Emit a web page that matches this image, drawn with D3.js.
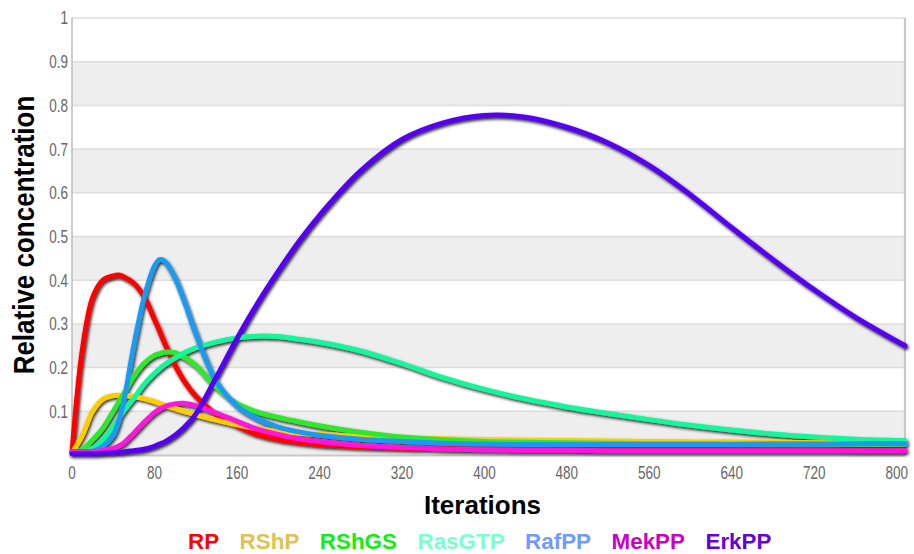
<!DOCTYPE html>
<html>
<head>
<meta charset="utf-8">
<script src="https://cdn.jsdelivr.net/npm/d3@7"></script>
<style>
  html, body { margin: 0; padding: 0; background: #fff; }
  svg { display: block; font-family: "Liberation Sans", Arial, sans-serif; }
</style>
</head>
<body>
<svg id="chart" width="914" height="554"></svg>
<script>
// ---------- data ----------
const iterations = [0, 10, 20, 30, 40, 45, 50, 60, 70, 80, 85, 90, 100, 110, 120, 140, 160, 180, 200, 220, 240, 280, 320, 360, 400, 440, 480, 520, 560, 600, 640, 680, 720, 760, 808];

const seriesNames = ["RP", "RShP", "RShGS", "RasGTP", "RafPP", "MekPP", "ErkPP"];

const RP     = [0.005, 0.24, 0.36, 0.40, 0.41, 0.412, 0.408, 0.393, 0.362, 0.31, 0.283, 0.255, 0.205, 0.165, 0.135, 0.093, 0.067, 0.047, 0.036, 0.029, 0.024, 0.019, 0.016, 0.015, 0.014, 0.013, 0.013, 0.012, 0.012, 0.012, 0.011, 0.011, 0.011, 0.01, 0.01];
const RShP   = [0.005, 0.045, 0.10, 0.128, 0.136, 0.137, 0.136, 0.133, 0.129, 0.122, 0.118, 0.114, 0.106, 0.099, 0.092, 0.08, 0.069, 0.06, 0.054, 0.05, 0.047, 0.043, 0.040, 0.037, 0.035, 0.034, 0.033, 0.032, 0.031, 0.030, 0.030, 0.029, 0.028, 0.028, 0.027];
const RShGS  = [0.005, 0.012, 0.035, 0.062, 0.10, 0.12, 0.14, 0.18, 0.21, 0.228, 0.232, 0.235, 0.234, 0.222, 0.205, 0.155, 0.118, 0.098, 0.086, 0.076, 0.067, 0.052, 0.041, 0.035, 0.031, 0.029, 0.028, 0.027, 0.026, 0.026, 0.025, 0.025, 0.025, 0.024, 0.024];
const RasGTP = [0.005, 0.006, 0.015, 0.035, 0.065, 0.082, 0.10, 0.13, 0.162, 0.187, 0.197, 0.207, 0.222, 0.235, 0.245, 0.259, 0.268, 0.272, 0.271, 0.265, 0.258, 0.238, 0.209, 0.177, 0.15, 0.128, 0.11, 0.095, 0.081, 0.068, 0.057, 0.048, 0.041, 0.036, 0.033];
const RafPP  = [0.005, 0.005, 0.008, 0.02, 0.045, 0.075, 0.12, 0.25, 0.36, 0.432, 0.447, 0.443, 0.405, 0.345, 0.278, 0.168, 0.113, 0.083, 0.064, 0.053, 0.045, 0.036, 0.031, 0.027, 0.025, 0.024, 0.024, 0.024, 0.024, 0.024, 0.024, 0.025, 0.025, 0.026, 0.026];
const MekPP  = [0.008, 0.008, 0.008, 0.01, 0.015, 0.02, 0.027, 0.05, 0.075, 0.097, 0.105, 0.111, 0.117, 0.118, 0.113, 0.096, 0.077, 0.059, 0.047, 0.037, 0.031, 0.022, 0.017, 0.014, 0.012, 0.011, 0.011, 0.01, 0.01, 0.01, 0.01, 0.01, 0.01, 0.01, 0.01];
const ErkPP  = [0.003, 0.003, 0.003, 0.004, 0.005, 0.006, 0.007, 0.01, 0.013, 0.02, 0.025, 0.03, 0.045, 0.066, 0.093, 0.178, 0.266, 0.347, 0.42, 0.488, 0.548, 0.65, 0.722, 0.76, 0.777, 0.773, 0.75, 0.714, 0.662, 0.595, 0.52, 0.447, 0.378, 0.315, 0.25];

const seriesValues = [RP, RShP, RShGS, RasGTP, RafPP, MekPP, ErkPP];
const lineColors   = ["#ff0000", "#ffcc00", "#2ee82e", "#14f59a", "#1a9af0", "#ff14dc", "#5500ee"];
const legendColors = ["#ff0000", "#dfc24f", "#11ee11", "#77ffcc", "#6f9bff", "#cc00cc", "#6600dd"];

const yTicks = [0.1, 0.2, 0.3, 0.4, 0.5, 0.6, 0.7, 0.8, 0.9, 1];
const yTickLabels = ["0.1", "0.2", "0.3", "0.4", "0.5", "0.6", "0.7", "0.8", "0.9", "1"];
const xTicks = [0, 80, 160, 240, 320, 400, 480, 560, 640, 720, 800];

// ---------- layout ----------
const svg = d3.select("#chart");
const plotL = 72, plotR = 905, plotT = 18, plotB = 455;

const x = d3.scaleLinear().domain([0, 808]).range([plotL, plotR]);
const y = d3.scaleLinear().domain([0, 1]).range([plotB, plotT]);

// drop shadow filter
const defs = svg.append("defs");
const f = defs.append("filter").attr("id", "shadow")
  .attr("x", "-5%").attr("y", "-5%").attr("width", "110%").attr("height", "115%");
f.append("feDropShadow").attr("dx", 1.2).attr("dy", 1.8).attr("stdDeviation", 1.4)
  .attr("flood-color", "#000").attr("flood-opacity", 0.85);

// bands
const bandStarts = d3.range(0, 10, 2).map(i => i / 10);
svg.append("g").selectAll("rect").data(bandStarts).join("rect")
  .attr("x", plotL).attr("width", plotR - plotL)
  .attr("y", d => y(d + 0.1)).attr("height", d => y(d) - y(d + 0.1))
  .attr("fill", "#eeeeee");

// gridlines
svg.append("g").selectAll("line").data(yTicks).join("line")
  .attr("x1", plotL).attr("x2", plotR)
  .attr("y1", d => y(d)).attr("y2", d => y(d))
  .attr("stroke", "#dcdcdc").attr("stroke-width", 1.5);

// axis lines
svg.append("line").attr("x1", plotL).attr("x2", plotR).attr("y1", plotB + 0.5).attr("y2", plotB + 0.5)
  .attr("stroke", "#c8c8c8").attr("stroke-width", 2);
svg.append("line").attr("x1", plotL).attr("x2", plotL).attr("y1", plotT).attr("y2", plotB)
  .attr("stroke", "#bdbdbd").attr("stroke-width", 1.5);
svg.append("line").attr("x1", plotR).attr("x2", plotR).attr("y1", plotT).attr("y2", plotB)
  .attr("stroke", "#c8c8c8").attr("stroke-width", 2.2);

// y tick labels
svg.append("g").selectAll("text").data(yTicks).join("text")
  .attr("transform", d => `translate(68,${y(d)}) scale(0.75,1)`)
  .attr("text-anchor", "end").attr("dy", "0.36em")
  .attr("font-size", 18).attr("fill", "#666")
  .text((d, i) => yTickLabels[i]);

// x tick labels
svg.append("g").selectAll("text").data(xTicks).join("text")
  .attr("transform", d => `translate(${x(d)},479) scale(0.75,1)`)
  .attr("text-anchor", "middle")
  .attr("font-size", 18).attr("fill", "#666")
  .text(d => d);

// lines
const line = d3.line()
  .x((d, i) => x(iterations[i]))
  .y(d => y(d))
  .curve(d3.curveCatmullRom.alpha(0.5));

const linesG = svg.append("g").attr("filter", "url(#shadow)");
linesG.selectAll("path").data(seriesValues).join("path")
  .attr("d", d => line(d))
  .attr("fill", "none")
  .attr("stroke", (d, i) => lineColors[i])
  .attr("stroke-width", 5)
  .attr("stroke-linecap", "round")
  .attr("stroke-linejoin", "round");

// axis titles
svg.append("text")
  .attr("x", 482.5).attr("y", 514)
  .attr("text-anchor", "middle")
  .attr("font-size", 26).attr("font-weight", "bold").attr("fill", "#000")
  .text("Iterations");

svg.append("text")
  .attr("transform", "translate(34,235) scale(1.15,1) rotate(-90)")
  .attr("text-anchor", "middle")
  .attr("font-size", 26).attr("font-weight", "bold").attr("fill", "#000")
  .text("Relative concentration");

// legend
const legendG = svg.append("g");
let lx = 188;
seriesNames.forEach((name, i) => {
  const t = legendG.append("text")
    .attr("x", lx).attr("y", 549)
    .attr("font-size", 22.4).attr("font-weight", "bold")
    .attr("fill", legendColors[i])
    .text(name);
  lx += t.node().getComputedTextLength() + 20.5;
});
</script>
</body>
</html>
